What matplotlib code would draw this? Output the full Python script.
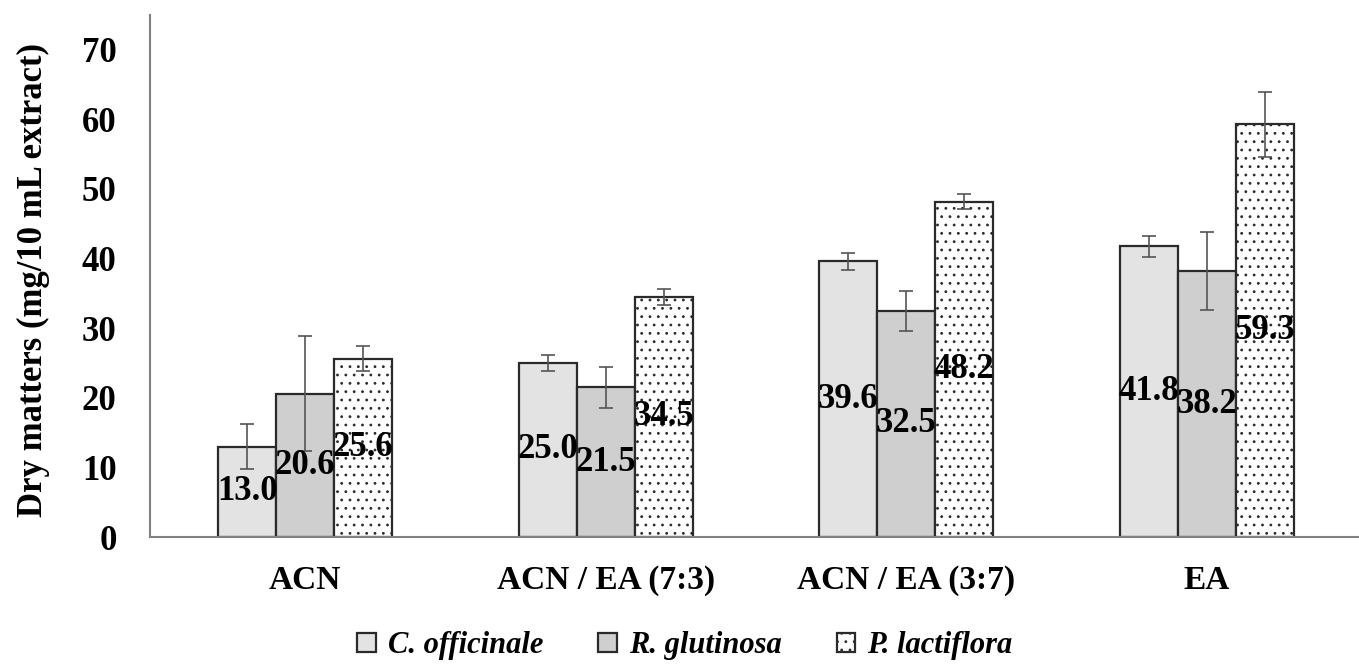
import matplotlib
matplotlib.use("Agg")
import matplotlib.pyplot as plt
import numpy as np

categories = ["ACN", "ACN / EA (7:3)", "ACN / EA (3:7)", "EA"]
series_names = ["C. officinale", "R. glutinosa", "P. lactiflora"]
c_off = [13.0, 25.0, 39.6, 41.8]
r_glu = [20.6, 21.5, 32.5, 38.2]
p_lac = [25.6, 34.5, 48.2, 59.3]
c_err = [3.3, 1.2, 1.2, 1.5]
r_err = [8.3, 2.9, 2.9, 5.6]
p_err = [1.8, 1.1, 1.1, 4.7]

plt.rcParams['font.family'] = ['Liberation Serif', 'DejaVu Serif']
plt.rcParams['hatch.color'] = '#5a5a5a'
plt.rcParams['hatch.linewidth'] = 0.8

fig = plt.figure(figsize=(13.59, 6.69), dpi=100)
ax = fig.add_axes([150/1359, 132/669, 1209/1359, 522/669])

x = np.arange(len(categories))
w = 0.193
values = [c_off, r_glu, p_lac]
errs = [c_err, r_err, p_err]
fills = ['#e3e3e3', '#cfcfcf', 'white']
hatches = [None, None, '..']
offsets = [-w, 0, w]
for vals, er, fc, h, off, name in zip(values, errs, fills, hatches, offsets, series_names):
    bars = ax.bar(x + off, vals, width=w, color=fc, edgecolor='#2a2a2a',
                  linewidth=1.6, hatch=h, label=name, zorder=2)
    ax.errorbar(x + off, vals, yerr=er, fmt='none', ecolor='#555555',
                elinewidth=1.2, capsize=5, capthick=1.2, zorder=3)
    for b, v in zip(bars, vals):
        ax.text(b.get_x() + b.get_width()/2, v/2, f"{v:.1f}", ha='center', va='center',
                fontsize=25, fontweight='bold', color='black', zorder=4)

ax.set_xlim(-0.516, 3.507)
ax.set_ylim(0, 75)
ax.set_yticks(range(0, 71, 10))
ax.set_xticks(x)
ax.set_xticklabels(categories, fontsize=24, fontweight='bold')
for lbl in ax.get_yticklabels():
    lbl.set_fontsize(25)
    lbl.set_fontweight('bold')
ax.tick_params(axis='both', length=0)
ax.tick_params(axis='x', pad=20)
ax.tick_params(axis='y', pad=24)
for s in ['top', 'right']:
    ax.spines[s].set_visible(False)
for s in ['left', 'bottom']:
    ax.spines[s].set_color('#808080')
    ax.spines[s].set_linewidth(1.5)

fig.text(33/1359, 1 - 280/669, "Dry matters (mg/10 mL extract)", rotation=90,
         ha='center', va='center', fontsize=25, fontweight='bold')

fig.legend(loc='center', bbox_to_anchor=(685/1359, 1 - 646/669), ncol=3, frameon=False,
           prop={'size': 22, 'weight': 'bold', 'style': 'italic'},
           handlelength=0.6, handleheight=0.6, handletextpad=0.4, columnspacing=1.8)

fig.savefig("out.png", dpi=100)
